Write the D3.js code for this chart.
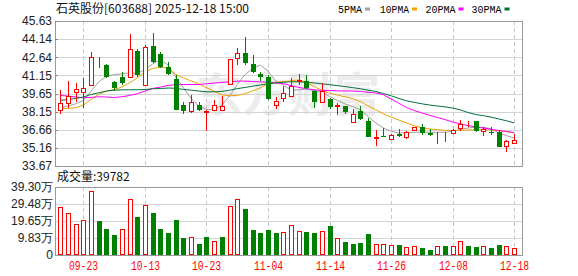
<!DOCTYPE html>
<html>
<meta charset="utf-8">
<head>
<script src="https://d3js.org/d3.v7.min.js"></script>
<style>
  body { margin: 0; background: #fff; }
  svg { display: block; }
</style>
</head>
<body>
<script>
var width = 578, height = 276;

// trading days
var dates = ["09-18","09-19","09-22","09-23","09-24","09-25","09-26","09-29","09-30","10-09",
  "10-10","10-13","10-14","10-15","10-16","10-17","10-20","10-21","10-22","10-23",
  "10-24","10-27","10-28","10-29","10-30","10-31","11-03","11-04","11-05","11-06",
  "11-07","11-10","11-11","11-12","11-13","11-14","11-17","11-18","11-19","11-20",
  "11-21","11-24","11-25","11-26","11-27","11-28","12-01","12-02","12-03","12-04",
  "12-05","12-08","12-09","12-10","12-11","12-12","12-15","12-16","12-17","12-18"];

var openPx = [38.31,38.86,39.77,39.77,40.34,42.08,42.01,40.56,41.00,41.05,
  43.19,40.31,43.57,42.92,41.87,40.84,38.72,38.17,38.72,38.15,
  38.25,38.31,40.45,42.56,42.97,42.07,41.25,41.00,38.72,39.27,
  39.46,40.72,40.64,39.82,38.99,39.22,38.65,38.58,37.27,38.17,
  37.35,35.98,36.18,35.90,36.31,36.07,36.61,36.89,36.40,36.38,
  36.38,36.40,36.81,37.12,37.35,36.53,36.45,36.45,35.29,35.57];
var highPx = [39.90,40.65,40.51,40.92,43.11,42.64,42.05,40.70,41.46,44.56,
  43.30,43.66,44.67,43.11,42.28,41.19,38.99,39.55,38.99,38.25,
  39.13,39.41,42.50,43.38,44.34,42.83,41.46,41.19,39.36,40.23,
  40.92,41.25,41.19,39.96,40.51,39.30,38.86,38.65,38.37,38.58,
  37.63,36.67,36.81,36.34,36.73,36.56,36.92,37.13,36.73,36.45,
  36.45,36.73,37.43,37.35,37.35,36.89,36.89,36.60,35.84,36.34];
var lowPx = [37.96,38.45,38.99,38.45,40.23,41.74,40.95,39.87,40.37,40.92,
  41.05,40.23,42.15,41.74,41.19,38.25,37.96,38.04,38.17,36.57,
  38.17,38.25,40.37,42.01,42.01,41.33,40.64,39.13,38.37,38.91,
  39.36,40.35,40.05,38.45,38.99,38.40,37.90,37.99,37.25,37.49,
  36.03,35.29,36.10,35.79,36.07,35.93,36.55,36.26,36.12,35.49,
  35.65,36.36,36.53,36.89,36.45,36.12,36.26,35.20,34.80,35.57];
var closePx = [38.86,39.46,40.01,40.10,42.64,42.12,40.97,40.10,40.51,43.30,
  41.19,43.47,42.28,41.87,41.25,38.31,38.17,38.99,38.31,38.20,
  38.72,38.64,42.48,42.97,42.15,41.46,41.05,39.19,39.05,39.73,
  40.28,40.78,40.10,38.91,39.82,38.50,38.72,38.09,37.98,37.55,
  36.03,36.05,36.12,36.23,36.12,36.48,36.89,36.40,36.26,36.42,
  36.40,36.61,37.16,37.14,36.53,36.73,36.40,35.24,35.70,35.78];

// volume in 万股
var volume = [27.4,24.1,17.6,19.9,36.5,19.5,14.9,11.5,14.7,32.0,
  21.8,28.5,24.3,14.9,12.8,20.1,9.8,10.2,6.3,10.3,
  8.0,10.3,27.9,32.0,26.4,14.3,12.6,14.3,12.6,13.2,
  17.0,13.8,13.2,12.6,13.8,16.6,9.6,7.6,6.3,6.9,
  12.0,6.1,6.1,5.7,5.7,4.4,5.2,4.0,2.9,5.2,
  5.2,5.0,8.0,5.2,4.4,5.0,4.0,5.7,5.2,3.9782];

var ma5 = [38.48,38.62,38.80,39.08,39.85,40.61,41.08,41.21,41.27,41.35,
  41.30,41.63,42.09,42.42,41.99,41.00,40.12,39.24,38.62,38.34,
  38.34,38.70,39.44,40.39,41.21,41.71,41.99,41.49,40.67,40.34,
  39.92,39.96,40.01,39.90,39.77,39.41,39.08,38.80,38.58,38.31,
  37.76,37.22,36.81,36.53,36.40,36.40,36.45,36.48,36.45,36.45,
  36.45,36.53,36.67,36.81,36.86,36.86,36.75,36.40,36.17,35.98];
var ma10 = [38.39,38.42,38.48,38.70,39.16,39.57,39.85,39.98,40.18,40.53,
  40.94,41.44,41.71,41.82,41.76,41.23,40.94,40.69,40.45,40.12,
  39.84,39.55,39.46,39.50,39.63,39.87,40.12,40.45,40.57,40.64,
  40.70,40.78,40.56,40.23,39.90,39.68,39.52,39.38,39.24,38.99,
  38.64,38.31,37.98,37.71,37.46,37.22,36.99,36.83,36.72,36.67,
  36.61,36.61,36.61,36.64,36.67,36.67,36.64,36.58,36.50,36.40];
var ma20 = [39.49,39.44,39.36,39.30,39.33,39.38,39.36,39.32,39.38,39.49,
  39.63,39.85,40.06,40.18,40.31,40.39,40.39,40.39,40.39,40.45,
  40.51,40.56,40.61,40.67,40.67,40.64,40.61,40.57,40.53,40.47,
  40.30,40.15,40.05,39.96,39.90,39.90,39.87,39.86,39.85,39.82,
  39.75,39.70,39.55,39.20,38.85,38.50,38.25,38.05,37.85,37.68,
  37.50,37.30,37.15,37.00,36.90,36.80,36.70,36.60,36.52,36.42];
var ma30 = [39.08,39.16,39.24,39.36,39.57,39.71,39.85,39.93,39.95,39.96,
  39.96,39.98,40.04,40.06,40.10,40.08,39.98,39.93,39.85,39.79,
  39.79,39.82,39.92,40.05,40.15,40.25,40.35,40.45,40.53,40.58,
  40.62,40.61,40.57,40.52,40.45,40.38,40.30,40.22,40.14,40.04,
  39.93,39.82,39.65,39.46,39.25,39.05,38.92,38.80,38.70,38.62,
  38.55,38.45,38.30,38.08,37.92,37.82,37.70,37.55,37.40,37.22];

var priceTicks = [45.63,44.14,42.64,41.15,39.65,38.15,36.66,35.16,33.67];
var volTicks = [0,9.83,19.65,29.48,39.30];
var volTickLabels = ["0","9.83万","19.65万","29.48万","39.30万"];
var dateTicks = ["09-23","10-13","10-23","11-04","11-14","11-26","12-08","12-18"];

var maNames = ["5PMA","10PMA","20PMA","30PMA"];
var maColors = ["#a0a0a0","#f0a000","#ff00ff","#00703a"];
var maSeries = [ma5, ma10, ma20, ma30];

var RED = "#ff0000", GREEN = "#008000";
var pLeft = 55, pRight = 522, pTop = 21, pBottom = 166;
var vTop = 186.5, vBottom = 255;

var svg = d3.select("body").append("svg")
  .attr("width", width).attr("height", height)
  .style("font-family", "'Liberation Sans', Arial, sans-serif");

var x = d3.scaleBand().domain(dates).range([56.5, 518]);
var y = d3.scaleLinear().domain([33.67, 45.63]).range([pBottom, pTop]);
var yv = d3.scaleLinear().domain([0, 39.30]).range([vBottom, vTop]);
function cx(d) { return Math.round(x(d) + x.bandwidth() / 2) + 0.5; }

// title + legend
svg.append("text").attr("x", 56).attr("y", 13)
  .style("font-family", "'Noto Sans CJK SC', sans-serif").style("font-size", "12px")
  .attr("fill", "#111").text("石英股份[603688] 2025-12-18 15:00");

var legX = [338, 380, 425.5, 471.5];
var legW = [24, 29, 30, 30];
maNames.forEach(function (n, k) {
  svg.append("text").attr("x", legX[k]).attr("y", 12.5)
    .attr("textLength", legW[k]).attr("lengthAdjust", "spacingAndGlyphs")
    .style("font-family", "'Liberation Mono', monospace").style("font-size", "11px")
    .attr("fill", "#000").text(n);
  svg.append("rect").attr("x", legX[k] + legW[k] + 3).attr("y", 7.5)
    .attr("width", 5).attr("height", 3).attr("fill", maColors[k]);
});

// watermark
svg.append("text").attr("x", 288).attr("y", 111).attr("text-anchor", "middle")
  .style("font-family", "'Noto Sans CJK SC', sans-serif").style("font-size", "46px")
  .style("font-weight", "bold").attr("fill", "#ececec").text("东方财富");

// grids
var grid = svg.append("g").attr("shape-rendering", "crispEdges");
grid.selectAll(".hg").data(priceTicks.slice(1, -1)).join("line")
  .attr("x1", pLeft).attr("x2", pRight)
  .attr("y1", function (d) { return Math.round(y(d)) + 0.5; })
  .attr("y2", function (d) { return Math.round(y(d)) + 0.5; })
  .attr("stroke", "#d4d4d4");
grid.selectAll(".vhg").data(volTicks.slice(1, -1)).join("line")
  .attr("x1", pLeft).attr("x2", pRight)
  .attr("y1", function (d) { return Math.round(yv(d)) + 0.5; })
  .attr("y2", function (d) { return Math.round(yv(d)) + 0.5; })
  .attr("stroke", "#d4d4d4");
[[pTop, pBottom], [vTop, vBottom]].forEach(function (r) {
  grid.append("g").selectAll("line").data(dateTicks).join("line")
    .attr("x1", function (d) { return cx(d); }).attr("x2", function (d) { return cx(d); })
    .attr("y1", r[0]).attr("y2", r[1])
    .attr("stroke", "#c8c8c8").attr("stroke-dasharray", "4,3");
});

// frames
[[pTop, pBottom], [vTop, vBottom]].forEach(function (r) {
  grid.append("rect").attr("x", pLeft + 0.5).attr("y", Math.round(r[0]) + 0.5)
    .attr("width", pRight - pLeft).attr("height", Math.round(r[1]) - Math.round(r[0]))
    .attr("fill", "none").attr("stroke", "#999");
});

// moving averages
var maG = svg.append("g");
maSeries.forEach(function (s, k) {
  maG.append("path").datum(s)
    .attr("d", d3.line().x(function (v, i) { return x(dates[i]) + x.bandwidth() / 2; })
      .y(function (v) { return y(v); }))
    .attr("fill", "none").attr("stroke", maColors[k]).attr("stroke-width", 1);
});

// candles
var cg = svg.append("g").attr("shape-rendering", "crispEdges");
dates.forEach(function (d, i) {
  var up = closePx[i] >= openPx[i];
  var col = up ? RED : GREEN;
  var c = cx(d);
  var yt = Math.round(y(Math.max(openPx[i], closePx[i])));
  var yb = Math.round(y(Math.min(openPx[i], closePx[i])));
  cg.append("line").attr("x1", c).attr("x2", c)
    .attr("y1", y(highPx[i])).attr("y2", y(lowPx[i])).attr("stroke", col);
  if (up) {
    cg.append("rect").attr("x", c - 2).attr("width", 4)
      .attr("y", yt + 0.5).attr("height", Math.max(0, yb - yt))
      .attr("fill", "#fff").attr("stroke", col);
  } else {
    cg.append("rect").attr("x", c - 2.5).attr("width", 5)
      .attr("y", yt).attr("height", Math.max(1, yb - yt)).attr("fill", col);
  }
});

// volume bars (colour by change from previous close)
var vg = svg.append("g").attr("shape-rendering", "crispEdges");
dates.forEach(function (d, i) {
  var up = i === 0 || closePx[i] >= closePx[i - 1];
  var c = cx(d);
  var yt = Math.round(yv(volume[i]));
  if (up) {
    vg.append("rect").attr("x", c - 2).attr("width", 4)
      .attr("y", yt + 0.5).attr("height", vBottom - yt - 1)
      .attr("fill", "#fff").attr("stroke", RED);
  } else {
    vg.append("rect").attr("x", c - 2.5).attr("width", 5)
      .attr("y", yt).attr("height", vBottom - yt).attr("fill", GREEN);
  }
});

// axis labels
svg.append("g").selectAll("text").data(priceTicks).join("text")
  .attr("x", 52).attr("y", function (d) { return y(d); }).attr("dy", "0.36em")
  .attr("text-anchor", "end").style("font-size", "12px").attr("fill", "#222")
  .text(function (d) { return d.toFixed(2); });
svg.append("g").selectAll("text").data(volTicks).join("text")
  .attr("x", 53).attr("y", function (d) { return yv(d); }).attr("dy", "0.36em")
  .attr("text-anchor", "end").style("font-size", "12px").attr("fill", "#222")
  .text(function (d, i) { return volTickLabels[i]; });

// left ticks
svg.append("g").selectAll("line").data(priceTicks).join("line").attr("shape-rendering", "crispEdges")
  .attr("x1", pLeft).attr("x2", pLeft + 3)
  .attr("y1", function (d) { return Math.round(y(d)) + 0.5; })
  .attr("y2", function (d) { return Math.round(y(d)) + 0.5; })
  .attr("stroke", "#888");

svg.append("text").attr("x", 57).attr("y", 181)
  .style("font-family", "'Noto Sans CJK SC', sans-serif").style("font-size", "12px")
  .attr("fill", "#111").text("成交量:" + Math.round(volume[volume.length - 1] * 10000));

svg.append("g").selectAll("text").data(dateTicks).join("text")
  .attr("x", function (d) { return cx(d) - 14.5; }).attr("y", 270)
  .attr("textLength", 29).attr("lengthAdjust", "spacingAndGlyphs")
  .style("font-family", "'Liberation Mono', monospace").style("font-size", "12px")
  .attr("fill", RED).text(function (d) { return d; });
</script>
</body>
</html>
